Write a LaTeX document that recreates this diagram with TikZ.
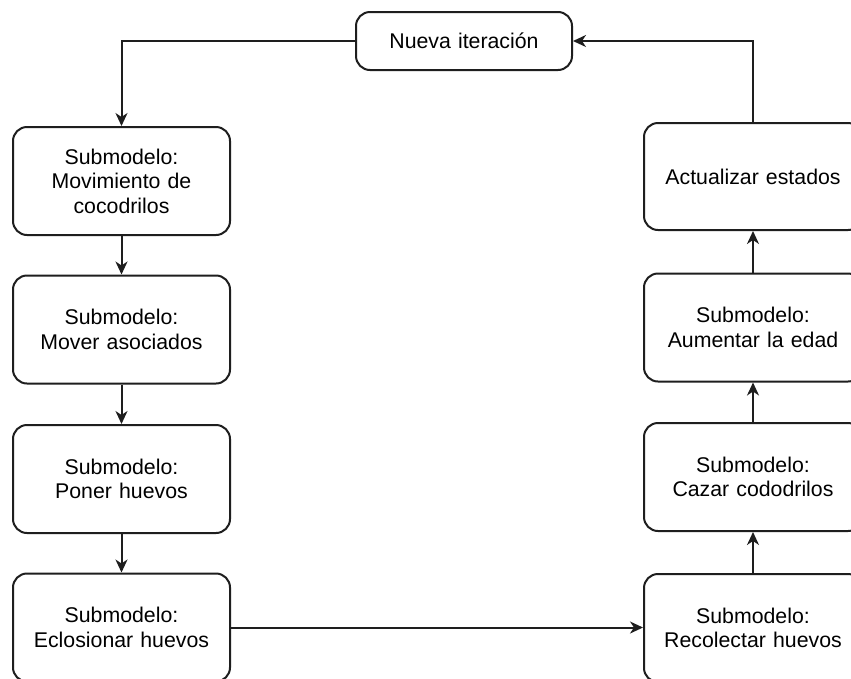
\documentclass[tikz,border=0pt]{standalone}
\usepackage{fontspec}
\setmainfont{Liberation Sans}
\usetikzlibrary{arrows.meta}
\definecolor{linegray}{HTML}{1E1E1E}
\begin{document}
\begin{tikzpicture}[x=1pt,y=-1pt,
  stepbox/.style={draw=linegray, line width=2pt, rounded corners=14pt, fill=white,
    inner sep=0pt, align=center, text width=205pt,
    font=\fontsize{21.3}{24.5}\selectfont},
  flow/.style={draw=linegray, line width=2pt,
    -{Stealth[length=13pt,width=12pt,inset=4pt]}}]
  \useasboundingbox (0,0) rectangle (851,678);
  \clip (0,0) rectangle (851,678);
  \fill[white] (0,0) rectangle (851,678);

  % top node
  \node[stepbox, minimum width=216pt, minimum height=58pt] (iter) at (464,41) {Nueva iteración};

  % left column
  \node[stepbox, minimum width=217pt, minimum height=108pt] (mov) at (121.5,181) {Submodelo:\\Movimiento de\\cocodrilos};
  \node[stepbox, minimum width=217pt, minimum height=108pt] (aso) at (121.5,329.5) {Submodelo:\\Mover asociados};
  \node[stepbox, minimum width=217pt, minimum height=108pt] (pon) at (121.5,479) {Submodelo:\\Poner huevos};
  \node[stepbox, minimum width=217pt, minimum height=108pt] (ecl) at (121.5,627.5) {Submodelo:\\Eclosionar huevos};

  % right column
  \node[stepbox, minimum width=218pt, minimum height=107pt] (act) at (753,176.5) {Actualizar estados};
  \node[stepbox, minimum width=218pt, minimum height=108pt] (aum) at (753,327.5) {Submodelo:\\Aumentar la edad};
  \node[stepbox, minimum width=218pt, minimum height=108pt] (caz) at (753,477) {Submodelo:\\Cazar cododrilos};
  \node[stepbox, minimum width=218pt, minimum height=108pt] (rec) at (753,628) {Submodelo:\\Recolectar huevos};

  % connectors
  \draw[flow] (iter.west) -| (mov.north);
  \draw[flow] (mov) -- (aso);
  \draw[flow] (aso) -- (pon);
  \draw[flow] (pon) -- (ecl);
  \draw[flow] (ecl.east) -- (ecl.east -| rec.west);
  \draw[flow] (rec) -- (caz);
  \draw[flow] (caz) -- (aum);
  \draw[flow] (aum) -- (act);
  \draw[flow] (act.north) |- (iter.east);
\end{tikzpicture}
\end{document}
